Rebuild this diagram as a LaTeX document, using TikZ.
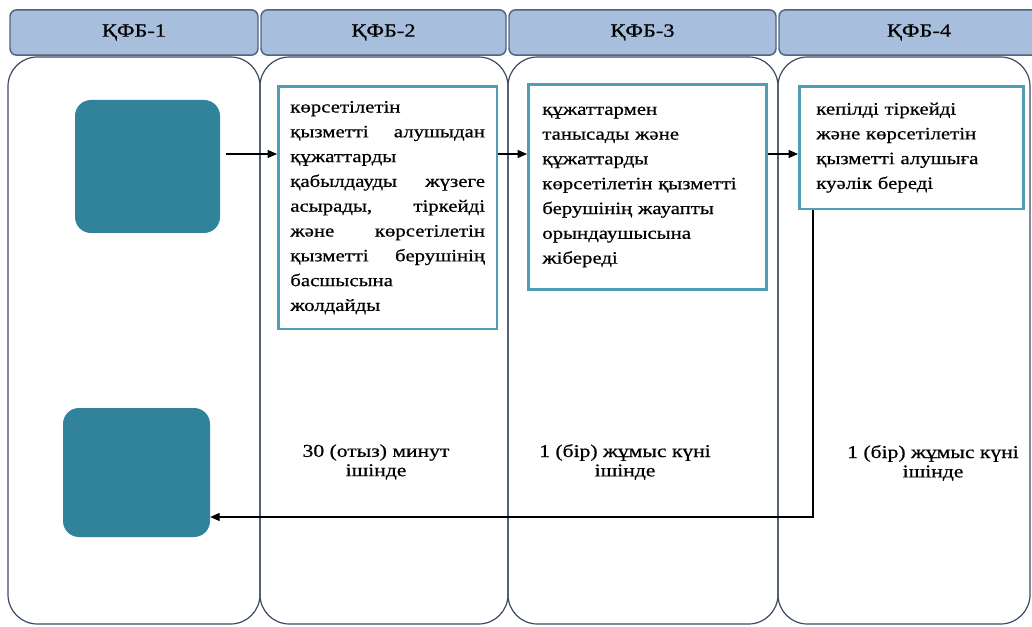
\documentclass[tikz,border=0pt]{standalone}
\usepackage{fontspec}
\setmainfont[FakeStretch=1.2,FakeBold=0.6]{Liberation Serif}
\usetikzlibrary{arrows.meta,calc}
\definecolor{hdrfill}{RGB}{167,190,220}
\definecolor{hdrline}{RGB}{80,99,128}
\definecolor{laneline}{RGB}{60,74,98}
\definecolor{teal}{RGB}{49,131,155}
\definecolor{boxline}{RGB}{82,157,181}
\begin{document}
\begin{tikzpicture}[x=0.75pt,y=-0.75pt,
  hdr/.style={draw=hdrline,fill=hdrfill,line width=1.1pt,rounded corners=5pt,font=\fontsize{14}{16}\selectfont},
  lane/.style={draw=laneline,line width=0.9pt,rounded corners=22pt},
  term/.style={fill=teal,rounded corners=12pt,inner sep=0pt},
  stepbox/.style={draw=boxline,line width=2pt,fill=white,anchor=north west,align=left,
    font=\fontsize{13}{18.6}\selectfont,inner ysep=4pt},
  timetext/.style={align=center,font=\fontsize{13.5}{14.5}\selectfont,inner sep=0pt},
  arr/.style={-{Triangle[length=7pt,width=6pt]},line width=0.8pt,black}]
\useasboundingbox (0,0) rectangle (1032,627);
\clip (0,0) rectangle (1032,627);
% lanes
\draw[lane] (8,57) rectangle (260,624);
\draw[lane] (260,57) rectangle (508,624);
\draw[lane] (508,57) rectangle (778,624);
\draw[lane] (778,57) rectangle (1030,624);
% headers
\node[hdr,minimum width=186pt,minimum height=34pt] (h1) at (134,32.5) {ҚФБ-1};
\node[hdr,minimum width=183.75pt,minimum height=34pt] (h2) at (383.5,32.5) {ҚФБ-2};
\node[hdr,minimum width=200.25pt,minimum height=34pt] (h3) at (642.5,32.5) {ҚФБ-3};
\node[hdr,minimum width=210pt,minimum height=34pt] (h4) at (919,32.5) {ҚФБ-4};
% terminals
\node[term,minimum width=108.75pt,minimum height=99.75pt] (A) at (147.5,166.5) {};
\node[term,minimum width=110.25pt,minimum height=96.75pt] (B) at (136.5,472.5) {};
% step boxes
\node[stepbox,text width=146pt,inner xsep=9pt,minimum height=182pt] (t1) at (277,85) {%
көрсетілетін\\
қызметті\hfill алушыдан\\
құжаттарды\\
қабылдауды\hfill жүзеге\\
асырады,\hfill тіркейді\\
және\hfill көрсетілетін\\
қызметті\hfill берушінің\\
басшысына\\
жолдайды};
\node[stepbox,text width=157.5pt,inner xsep=10.5pt,minimum height=154pt] (t2) at (527,83) {%
құжаттармен\\
танысады және\\
құжаттарды\\
көрсетілетін қызметті\\
берушінің жауапты\\
орындаушысына\\
жібереді};
\node[stepbox,text width=142.5pt,inner xsep=12.75pt,minimum height=92pt] (t3) at (798,85) {%
кепілді тіркейді\\
және көрсетілетін\\
қызметті алушыға\\
куәлік береді};
% time labels
\node[timetext] (d1) at (376,462) {30 (отыз) минут\\ішінде};
\node[timetext] (d2) at (625,462) {1 (бір) жұмыс күні\\ішінде};
\node[timetext] (d3) at (933,463) {1 (бір) жұмыс күні\\ішінде};
% connectors
\coordinate (r1) at (0,154);
\coordinate (r2) at (813,517);
\draw[arr,shorten <=4pt] (A.east |- r1) -- (t1.west |- r1);
\draw[arr] (t1.east |- r1) -- (t2.west |- r1);
\draw[arr] (t2.east |- r1) -- (t3.west |- r1);
\draw[arr] (t3.south -| r2) |- (B.east |- r2);
\end{tikzpicture}
\end{document}
